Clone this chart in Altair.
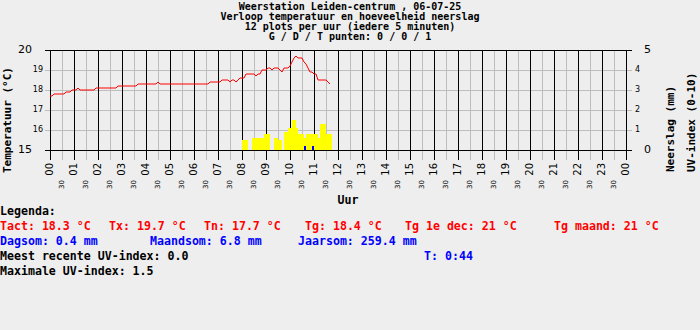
import altair as alt
import pandas as pd

# ---------------- data ----------------
hour_labels = ["00", "01", "02", "03", "04", "05", "06", "07", "08", "09", "10", "11",
               "12", "13", "14", "15", "16", "17", "18", "19", "20", "21", "22", "23", "00"]
half_labels = ["30"] * 24

temp_major = [15, 20]
temp_minor = [16, 17, 18, 19]
mm_major = [0, 5]
mm_minor = [1, 2, 3, 4]

# temperature every 5 minutes from 00:00 (12 per hour)
temperature = [
    17.7, 17.7, 17.8, 17.8, 17.8, 17.8, 17.8, 17.8, 17.9, 17.9, 17.9, 18.0,
    18.0, 18.0, 18.1, 18.0, 18.0, 18.0, 18.0, 18.0, 18.0, 18.0, 18.0, 18.1,
    18.1, 18.1, 18.1, 18.1, 18.1, 18.1, 18.1, 18.1, 18.1, 18.1, 18.2, 18.2,
    18.2, 18.2, 18.2, 18.2, 18.2, 18.2, 18.2, 18.2, 18.3, 18.3, 18.3, 18.3,
    18.3, 18.3, 18.3, 18.3, 18.3, 18.3, 18.4, 18.3, 18.3, 18.3, 18.3, 18.3,
    18.3, 18.3, 18.3, 18.3, 18.3, 18.3, 18.3, 18.3, 18.3, 18.3, 18.3, 18.3,
    18.3, 18.3, 18.3, 18.3, 18.3, 18.3, 18.3, 18.3, 18.4, 18.4, 18.4, 18.4,
    18.4, 18.4, 18.5, 18.5, 18.5, 18.5, 18.4, 18.5, 18.5, 18.4, 18.5, 18.6,
    18.6, 18.6, 18.8, 18.8, 18.8, 18.8, 18.8, 18.7, 18.8, 18.8, 19.0, 19.0,
    19.0, 19.1, 19.1, 19.0, 19.1, 19.1, 19.1, 19.0, 18.9, 19.1, 19.1, 19.1,
    19.2, 19.4, 19.6, 19.7, 19.6, 19.6, 19.6, 19.4, 19.3, 19.1, 18.9, 18.9,
    18.8, 18.8, 18.5, 18.5, 18.5, 18.5, 18.5, 18.4, 18.3,
]

# UV index and rain (mm) every 5 minutes starting 08:00
series_start_hour = 8
uv_index = [
    0.5, 0.5, 0.5, 0.0, 0.0, 0.6, 0.6, 0.6, 0.6, 0.6, 0.6, 0.8,
    0.8, 0.8, 0.0, 0.0, 0.6, 0.6, 0.5, 0.5, 0.0, 0.9, 0.9, 1.1,
    1.1, 1.5, 1.5, 1.1, 0.8, 0.8, 0.8, 0.6, 0.8, 0.8, 0.8, 0.8,
    0.8, 0.8, 0.6, 1.3, 1.3, 1.3, 0.8, 0.8, 0.8,
]
rain_mm = [
    0, 0, 0, 0, 0, 0, 0, 0, 0, 0, 0, 0,
    0, 0, 0, 0, 0, 0, 0, 0, 0, 0, 0, 0,
    0, 0, 0, 0, 0, 0, 0, 0.2, 0, 0, 0, 0.2,
    0, 0, 0, 0, 0, 0, 0, 0, 0,
]

title_lines = [
    "Weerstation Leiden-centrum , 06-07-25",
    "Verloop temperatuur en hoeveelheid neerslag",
    "12 plots per uur (iedere 5 minuten)",
    "G / D / T punten: 0 / 0 / 1",
]

legend_rows = [
    [("Legenda:", "black")],
    [("Tact: 18.3 °C", "red"), ("Tx: 19.7 °C", "red"), ("Tn: 17.7 °C", "red"),
     ("Tg: 18.4 °C", "red"), ("Tg 1e dec: 21 °C", "red"), ("Tg maand: 21 °C", "red")],
    [("Dagsom: 0.4 mm", "blue"), ("Maandsom: 6.8 mm", "blue"), ("Jaarsom: 259.4 mm", "blue")],
    [("Meest recente UV-index: 0.0", "black"), ("T: 0:44", "blue")],
    [("Maximale UV-index: 1.5", "black")],
]
legend_x = [
    [0],
    [0, 109, 204, 305, 405, 554],
    [0, 150, 298],
    [0, 424],
    [0],
]

# ---------------- layout ----------------
PAD_L, PAD_T = 50, 50
W, H = 576, 100
BG = "#EEEEEE"
GRAY = "#BEBEBE"
MONO = "DejaVu Sans Mono"
SANS = "DejaVu Sans"

xs = alt.Scale(domain=[0, 24], nice=False, zero=False)
ys_t = alt.Scale(domain=[15, 20], nice=False, zero=False)
ys_m = alt.Scale(domain=[0, 5], nice=False, zero=False)

step = 1 / 12
temp_df = pd.DataFrame({"t": [i * step for i in range(len(temperature))], "temp": temperature})
uv_df = pd.DataFrame({
    "t": [series_start_hour + j * step for j in range(len(uv_index))],
    "uv": uv_index,
})
uv_df["t2"] = uv_df["t"] + step
uv_df["base"] = 0
uv_df = uv_df[uv_df["uv"] > 0]
rain_df = pd.DataFrame({
    "t": [series_start_hour + j * step for j in range(len(rain_mm))],
    "mm": rain_mm,
})
rain_df["t2"] = rain_df["t"] + step
rain_df["base"] = 0
rain_df = rain_df[rain_df["mm"] > 0]

major_h = pd.DataFrame({"h": list(range(25)), "lab": hour_labels})
minor_h = pd.DataFrame({"h": [k + 0.5 for k in range(24)], "lab": half_labels})
tmaj = pd.DataFrame({"v": temp_major, "lab": [str(v) for v in temp_major]})
tmin = pd.DataFrame({"v": temp_minor, "lab": [str(v) for v in temp_minor]})
mmaj = pd.DataFrame({"v": mm_major, "lab": [str(v) for v in mm_major]})
mmin = pd.DataFrame({"v": mm_minor, "lab": [str(v) for v in mm_minor]})

X = lambda f: alt.X(f, scale=xs, axis=None)
YT = lambda f: alt.Y(f, scale=ys_t, axis=None)
YM = lambda f: alt.Y(f, scale=ys_m, axis=None)

layers = []
# gridlines
layers.append(alt.Chart(minor_h).mark_rule(color=GRAY, strokeWidth=1, xOffset=0.5).encode(
    x=X("h:Q"), y=alt.value(0), y2=alt.value(110)))
layers.append(alt.Chart(tmin).mark_rule(color=GRAY, strokeWidth=1, yOffset=0.5).encode(
    y=YT("v:Q"), x=alt.value(-5), x2=alt.value(582)))
layers.append(alt.Chart(major_h).mark_rule(color="black", strokeWidth=1, xOffset=0.5).encode(
    x=X("h:Q"), y=alt.value(0), y2=alt.value(110)))
layers.append(alt.Chart(tmaj).mark_rule(color="black", strokeWidth=1, yOffset=0.5).encode(
    y=YT("v:Q"), x=alt.value(-5), x2=alt.value(582)))
# bars
layers.append(alt.Chart(uv_df).mark_rect(color="#FFFF00").encode(
    x=X("t:Q"), x2="t2:Q", y=YM("uv:Q"), y2="base:Q"))
layers.append(alt.Chart(rain_df).mark_rect(color="#0000FF").encode(
    x=X("t:Q"), x2="t2:Q", y=YM("mm:Q"), y2="base:Q"))
# temperature line
layers.append(alt.Chart(temp_df).mark_line(color="#FF0000", strokeWidth=1).encode(
    x=X("t:Q"), y=YT("temp:Q")))

# tick labels
layers.append(alt.Chart(tmaj).mark_text(align="right", baseline="middle", font=SANS, fontSize=11,
                                        color="black").encode(
    y=YT("v:Q"), x=alt.value(-18), text="lab:N"))
layers.append(alt.Chart(tmin).mark_text(align="right", baseline="middle", font=SANS, fontSize=8,
                                        color="black").encode(
    y=YT("v:Q"), x=alt.value(-7), text="lab:N"))
layers.append(alt.Chart(mmaj).mark_text(align="left", baseline="middle", font=SANS, fontSize=11,
                                        color="black").encode(
    y=YM("v:Q"), x=alt.value(594), text="lab:N"))
layers.append(alt.Chart(mmin).mark_text(align="left", baseline="middle", font=SANS, fontSize=8,
                                        color="black").encode(
    y=YM("v:Q"), x=alt.value(585), text="lab:N"))
layers.append(alt.Chart(major_h).mark_text(align="right", baseline="middle", angle=270, font=SANS,
                                           fontSize=10, color="black").encode(
    x=X("h:Q"), y=alt.value(113), text="lab:N"))
layers.append(alt.Chart(minor_h).mark_text(align="right", baseline="middle", angle=270, font=SANS,
                                           fontSize=7, color="black").encode(
    x=X("h:Q"), y=alt.value(130), text="lab:N"))

one = pd.DataFrame({"k": [0]})


def txt(s, x, y, color="black", align="left", angle=0, size=11.6, font=MONO, weight="bold"):
    kw = dict(align=align, baseline="middle", font=font, fontSize=size, fontWeight=weight,
              color=color)
    if angle:
        kw["angle"] = angle
    return alt.Chart(one).mark_text(**kw).encode(
        x=alt.value(x), y=alt.value(y), text=alt.value(s))


# title
title_y = [7, 17, 27, 37]
for s, yy in zip(title_lines, title_y):
    layers.append(txt(s, 350 - PAD_L, yy - PAD_T, align="center", size=10))

# axis titles
layers.append(txt("Temperatuur (°C)", 8 - PAD_L, 173 - PAD_T, angle=270, size=11))
layers.append(txt("Neerslag (mm)", 670.5 - PAD_L, 172 - PAD_T, angle=270, size=11))
layers.append(txt("UV-index (0-10)", 692 - PAD_L, 172 - PAD_T, angle=270, size=11))
layers.append(txt("Uur", 348 - PAD_L, 201 - PAD_T, align="center"))

# legend
row_y = [212, 227, 242, 257, 272]
for items, xs_row, yy in zip(legend_rows, legend_x, row_y):
    for (s, col), xx in zip(items, xs_row):
        layers.append(txt(s, xx - PAD_L, yy - PAD_T, color=col))

chart = alt.layer(*layers).resolve_scale(y="independent").properties(
    width=W, height=H,
    padding={"left": PAD_L, "top": PAD_T, "right": 700 - PAD_L - W, "bottom": 330 - PAD_T - H},
    autosize=alt.AutoSizeParams(type="none"),
    background=BG,
).configure_view(stroke=None, fill=BG)

chart.save("out.html", embed_options={"renderer": "svg", "actions": False})
